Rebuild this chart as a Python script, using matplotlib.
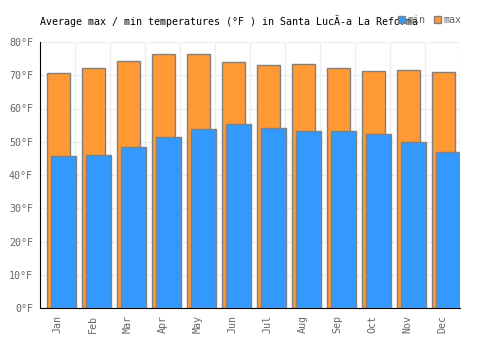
import matplotlib
matplotlib.use('Agg')
import matplotlib.pyplot as plt
import numpy as np
from matplotlib.patches import Patch

months = ['Jan', 'Feb', 'Mar', 'Apr', 'May', 'Jun', 'Jul', 'Aug', 'Sep', 'Oct', 'Nov', 'Dec']
tmax = [70.6, 72.1, 74.2, 76.3, 76.3, 73.9, 73.0, 73.3, 72.1, 71.2, 71.5, 70.9]
tmin = [45.6, 45.9, 48.4, 51.4, 53.8, 55.2, 54.0, 53.2, 53.2, 52.2, 49.8, 46.8]
yticks = [0, 10, 20, 30, 40, 50, 60, 70, 80]

plt.rcParams['font.family'] = ['DejaVu Sans Mono']

fig = plt.figure(figsize=(5, 3.5), dpi=100)
ax = fig.add_axes([0.08, 0.12, 0.84, 0.76])

x = np.arange(len(months))
ax.bar(x + 0.02, tmax, width=0.66, color='#ff9933', edgecolor='#808080', linewidth=1, zorder=2)
ax.bar(x + 0.17, tmin, width=0.70, color='#3399ff', edgecolor='#808080', linewidth=1, zorder=3)

ax.set_xlim(-0.5, 11.5)
ax.set_ylim(0, 80)
ax.set_yticks(yticks)
ax.set_yticklabels([str(v) + '°F' for v in yticks], color='#666666', fontsize=7.2)
ax.set_xticks(x)
ax.set_xticklabels(months, rotation=90, color='#666666', fontsize=7.2)
ax.set_xticks(x + 0.5, minor=True)
ax.tick_params(axis='both', length=0, pad=5)
ax.tick_params(axis='x', which='minor', length=0)
ax.grid(axis='y', color='#eeeeee', linewidth=1, zorder=0)
ax.grid(axis='x', which='minor', color='#eeeeee', linewidth=1, zorder=0)
ax.set_axisbelow(True)
for s in ['top', 'right']:
    ax.spines[s].set_visible(False)
ax.spines['left'].set_color('black')
ax.spines['bottom'].set_color('black')

fig.text(0.08, 0.94, 'Average max / min temperatures (°F ) in Santa LucÃ-a La Reforma',
         fontsize=7.2, color='black', ha='left', va='center')

handles = [Patch(facecolor='#3399ff', edgecolor='#808080'),
           Patch(facecolor='#ff9933', edgecolor='#808080')]
fig.legend(handles, ['min', 'max'], loc='center left', bbox_to_anchor=(0.785, 0.943),
           ncol=2, frameon=False, fontsize=7.2, labelcolor='#666666',
           handlelength=0.7, handleheight=0.7, handletextpad=0.3, columnspacing=0.8,
           borderpad=0)

fig.savefig('out.png', dpi=100)
